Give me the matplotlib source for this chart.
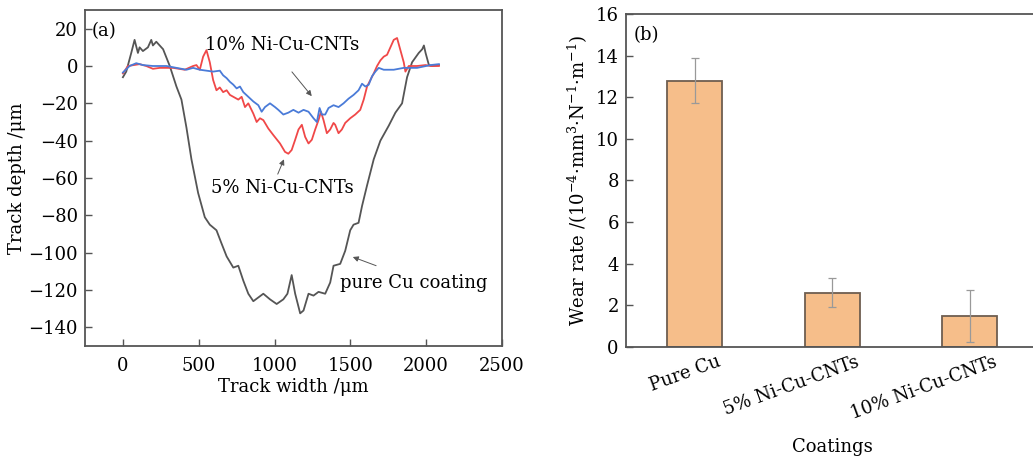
import matplotlib
matplotlib.use("Agg")
import matplotlib.pyplot as plt
import matplotlib.transforms as mtransforms
import numpy as np

plt.rcParams['font.family'] = ['DejaVu Serif']
plt.rcParams['mathtext.fontset'] = 'dejavuserif'

# ---- (a) track profiles ----
cu_x = [0, 22, 55, 77, 99, 110, 132, 165, 187, 198, 220, 265, 309, 353, 386, 419, 452, 496, 540, 573,
        617, 650, 684, 728, 761, 794, 827, 860, 893, 926, 970, 1014, 1058, 1085, 1113, 1136, 1169, 1191,
        1224, 1257, 1290, 1334, 1367, 1389, 1433, 1466, 1499, 1521, 1554, 1577, 1610, 1654, 1698, 1753,
        1797, 1841, 1874, 1907, 1951, 1974, 1985, 1996, 2018, 2040, 2084]
cu_y = [-6, -3, 7, 14, 7, 10, 8, 10, 14, 11, 13, 9, 0, -11, -18, -33, -50, -68, -81, -85,
        -88, -95, -102, -108, -107, -115, -122, -126, -124, -122, -125, -127.5, -125, -122, -112, -122, -132.5, -131,
        -122, -123, -121, -122, -116, -107, -106, -99, -88, -85, -84, -75, -64, -50, -40, -32,
        -25, -20, -6, 2, 7, 9, 11, 7, 0.5, 0, 0.5]

ni5_x = [0, 33, 110, 154, 198, 243, 331, 408, 463, 485, 507, 529, 551, 573, 595, 617, 639, 661, 684, 706,
         728, 761, 783, 805, 827, 860, 882, 904, 926, 959, 992, 1036, 1069, 1091, 1113, 1136, 1158, 1180,
         1202, 1224, 1246, 1268, 1290, 1306, 1323, 1345, 1367, 1389, 1400, 1422, 1444, 1466, 1499, 1532,
         1565, 1588, 1610, 1632, 1654, 1676, 1698, 1720, 1742, 1764, 1786, 1808, 1830, 1852, 1863, 1885,
         1940, 1996, 2029, 2084]
ni5_y = [-4, 0, 1, 0, -1.5, -1, -1, -2, 0, 0.5, -2, 5, 8.5, 2, -7.5, -13, -11.5, -14, -13, -15.5,
         -16.5, -18, -16.5, -22, -20, -25.5, -30, -28, -29, -33.5, -37, -41.5, -46, -47, -45, -39.5, -34, -31.5,
         -38, -41.5, -39.5, -34, -29, -24.5, -29, -36, -34, -30.5, -31.5, -36, -34, -30.5, -28, -26,
         -23.5, -18, -11, -7.5, -4, 0, 3, 5, 6, 10, 14, 15, 8.5, 2, -3, 0,
         0, 0.5, 0, 0]

ni10_x = [0, 44, 88, 132, 198, 287, 353, 419, 463, 507, 551, 595, 639, 661, 684, 706, 728, 750, 772, 794,
          827, 860, 893, 915, 937, 970, 1003, 1025, 1058, 1091, 1124, 1158, 1191, 1224, 1257, 1279, 1297,
          1312, 1334, 1356, 1389, 1422, 1455, 1488, 1521, 1554, 1577, 1599, 1621, 1643, 1665, 1687, 1720,
          1786, 1852, 1940, 2029, 2084]
ni10_y = [-3.5, 0, 1.5, 0.5, 0, 0, -1, -2, -1, -2, -2.5, -3, -2.5, -5, -6.5, -8.5, -10, -12, -11, -14,
          -16.5, -19, -21, -24.5, -22, -20, -22, -23.5, -26, -25, -23.5, -25, -23.5, -24.5, -28, -30, -22.5,
          -26, -26, -22.5, -21, -22, -20, -17.5, -15.5, -13, -9.5, -11, -10, -5.5, -3, -1, -2,
          -2, -1, -1, 0.5, 1]

# ---- (b) wear rates ----
coatings = ['Pure Cu', '5% Ni-Cu-CNTs', '10% Ni-Cu-CNTs']
wear_rate = [12.8, 2.6, 1.5]
wear_err = [1.1, 0.7, 1.25]

W, H = 1033, 461
fig = plt.figure(figsize=(W / 100, H / 100), dpi=100)

spine_c = '#555555'
fs = 13

ax1 = fig.add_axes([85 / W, (H - 346) / H, 417 / W, 336 / H])
ax1.plot(cu_x, cu_y, color='#555555', lw=1.3)
ax1.plot(ni5_x, ni5_y, color='#f04848', lw=1.3)
ax1.plot(ni10_x, ni10_y, color='#4a7bd8', lw=1.3)
ax1.set_xlim(-250, 2500)
ax1.set_ylim(-150, 30)
ax1.set_xticks([0, 500, 1000, 1500, 2000, 2500])
ax1.set_yticks(np.arange(-140, 21, 20))
ax1.set_xlabel('Track width /μm', fontsize=13, labelpad=2)
ax1.set_ylabel('Track depth /μm', fontsize=13, labelpad=2)
ax1.tick_params(direction='in', length=5, width=1, color=spine_c, labelsize=fs, pad=5)
ax1.tick_params(axis='x', pad=8)
for s in ax1.spines.values():
    s.set_color(spine_c)
    s.set_linewidth(1.3)
ax1.text(0.017, 0.965, '(a)', transform=ax1.transAxes, fontsize=fs, va='top', ha='left')
ax1.text(1053, 11.2, '10% Ni-Cu-CNTs', fontsize=fs, ha='center', va='center')
ax1.annotate('', xy=(1257, -17.3), xytext=(1103, -2),
             arrowprops=dict(arrowstyle='-|>', color='#555555', lw=0.7, mutation_scale=8))
ax1.text(1053, -65.2, '5% Ni-Cu-CNTs', fontsize=fs, ha='center', va='center')
ax1.annotate('', xy=(1069, -48.6), xytext=(1014, -59.3),
             arrowprops=dict(arrowstyle='-|>', color='#555555', lw=0.7, mutation_scale=8))
ax1.text(1433, -116.3, 'pure Cu coating', fontsize=fs, ha='left', va='center')
ax1.annotate('', xy=(1499, -101.8), xytext=(1687, -107.5),
             arrowprops=dict(arrowstyle='-|>', color='#555555', lw=0.7, mutation_scale=8))

ax2 = fig.add_axes([625.7 / W, (H - 346.7) / H, 413 / W, 332.7 / H])
pos = np.arange(len(coatings))
ax2.bar(pos, wear_rate, width=0.4, color='#f6be8a', edgecolor='#6e5e50', linewidth=1.3,
        yerr=wear_err, error_kw=dict(ecolor='#999999', elinewidth=0.9, capsize=3, capthick=0.9))
ax2.set_xlim(-0.5, 2.5)
ax2.set_ylim(0, 16)
ax2.set_yticks(np.arange(0, 17, 2))
ax2.set_xticks(pos)
ax2.set_xticklabels([])
ax2.tick_params(axis='x', length=0)
lab_tr = mtransforms.blended_transform_factory(ax2.transData, ax2.transAxes) + \
    mtransforms.ScaledTranslation(29 / 100, -6 / 100, fig.dpi_scale_trans)
for p, name in zip(pos, coatings):
    ax2.text(p, 0, name, transform=lab_tr, rotation=20, ha='right', va='top', fontsize=fs)
ax2.tick_params(axis='y', direction='in', length=5, width=1, color=spine_c, labelsize=fs, pad=5)
ax2.text(0.5, -0.3, 'Coatings', transform=ax2.transAxes, fontsize=13, ha='center', va='center')
ax2.set_ylabel('Wear rate /(10$^{-4}$·mm$^{3}$·N$^{-1}$·m$^{-1}$)', fontsize=13, labelpad=4)
for s in ax2.spines.values():
    s.set_color(spine_c)
    s.set_linewidth(1.3)
ax2.text(0.02, 0.965, '(b)', transform=ax2.transAxes, fontsize=fs, va='top', ha='left')

fig.savefig('out.png', dpi=100)
